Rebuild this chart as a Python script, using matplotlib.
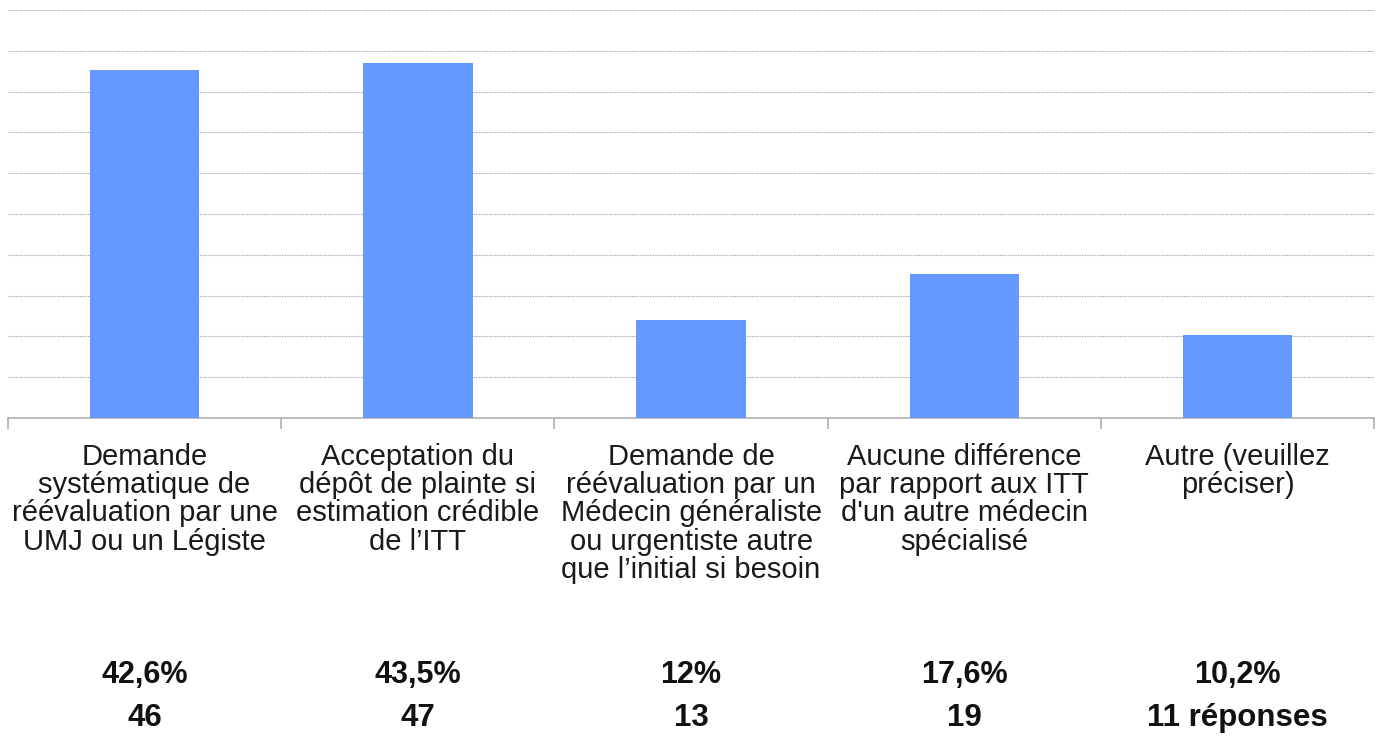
import matplotlib
matplotlib.use('Agg')
import matplotlib.pyplot as plt
import matplotlib.transforms as mtransforms
import numpy as np

categories = [
    "Demande\nsystématique de\nréévaluation par une\nUMJ ou un Légiste",
    "Acceptation du\ndépôt de plainte si\nestimation crédible\nde l’ITT",
    "Demande de\nréévaluation par un\nMédecin généraliste\nou urgentiste autre\nque l’initial si besoin",
    "Aucune différence\npar rapport aux ITT\nd'un autre médecin\nspécialisé",
    "Autre (veuillez\npréciser)",
]
percents = [42.6, 43.5, 12.0, 17.6, 10.2]
counts = [46, 47, 13, 19, 11]
pct_labels = ["42,6%", "43,5%", "12%", "17,6%", "10,2%"]
count_labels = ["46", "47", "13", "19", "11 réponses"]

plt.rcParams['font.family'] = ['Liberation Sans', 'DejaVu Sans']

fig = plt.figure(figsize=(13.8, 7.44), dpi=100)
ax = fig.add_axes([0.0058, 1 - 418 / 744, 0.99, (418 - 10) / 744])

x = np.arange(len(categories))
ax.bar(x, percents, width=0.4, color='#6699ff', zorder=3)

ax.set_xlim(-0.5, len(categories) - 0.5)
ax.set_ylim(0, 50)
ax.set_yticks(np.arange(5, 51, 5))
ax.yaxis.grid(True, color='#b4b4b4', linestyle=(0, (1.5, 0.8)), linewidth=0.8, zorder=0)
ax.tick_params(axis='y', left=False, labelleft=False)

for side in ['top', 'right', 'left']:
    ax.spines[side].set_visible(False)
ax.spines['bottom'].set_color('#b0b0b0')
ax.spines['bottom'].set_linewidth(1.2)

# ticks sit between categories, labels drawn as text below
ax.set_xticks(np.arange(-0.5, len(categories), 1.0))
ax.tick_params(axis='x', length=8, width=1.2, color='#b0b0b0', labelbottom=False)

trans = mtransforms.blended_transform_factory(ax.transData, fig.transFigure)
for i, lab in enumerate(categories):
    ax.text(i, 1 - 443 / 744, lab, transform=trans, ha='center', va='top',
            fontsize=21, linespacing=1.01, color='#1a1a1a')
    ax.text(i, 1 - 675 / 744, pct_labels[i], transform=trans, ha='center',
            va='center', fontsize=22, fontweight='bold', color='#111111')
    ax.text(i, 1 - 718 / 744, count_labels[i], transform=trans, ha='center',
            va='center', fontsize=22.5, fontweight='bold', color='#111111')

fig.savefig('out.png', dpi=100)
